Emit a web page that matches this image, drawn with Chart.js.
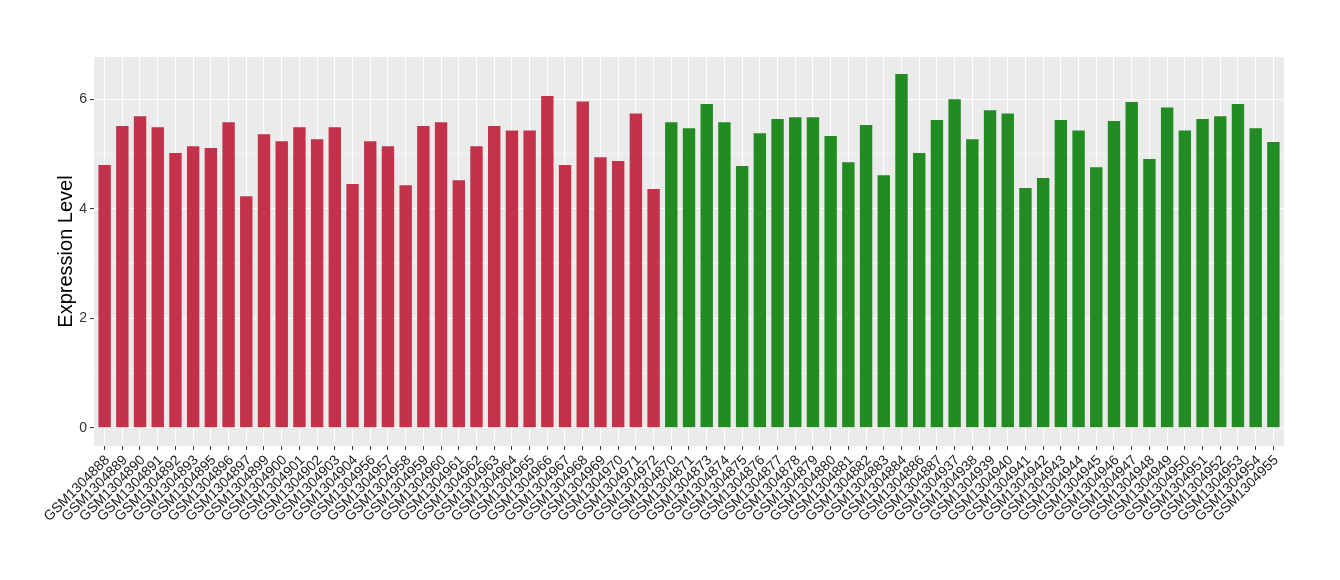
<!DOCTYPE html>
<html>
<head>
<meta charset="utf-8">
<script src="https://cdn.jsdelivr.net/npm/chart.js@4/dist/chart.umd.min.js"></script>
<style>
body{margin:0;background:#fff}
#wrap{width:1340px;height:580px}
</style>
</head>
<body>
<div id="wrap"><canvas id="myChart" width="1340" height="580"></canvas></div>
<script>
// 兩組樣本, 依圖片順序
var redSamples = ['GSM1304888','GSM1304889','GSM1304890','GSM1304891','GSM1304892','GSM1304893','GSM1304895','GSM1304896',
    'GSM1304897','GSM1304899','GSM1304900','GSM1304901','GSM1304902','GSM1304903','GSM1304904','GSM1304956',
    'GSM1304957','GSM1304958','GSM1304959','GSM1304960','GSM1304961','GSM1304962','GSM1304963','GSM1304964',
    'GSM1304965','GSM1304966','GSM1304967','GSM1304968','GSM1304969','GSM1304970','GSM1304971','GSM1304972'];
var redValues = [4.80,5.51,5.69,5.49,5.02,5.14,5.11,5.58,
    4.23,5.36,5.23,5.49,5.27,5.49,4.45,5.23,
    5.14,4.43,5.51,5.58,4.52,5.14,5.51,5.43,
    5.43,6.06,4.80,5.96,4.94,4.87,5.74,4.36];

var greenSamples = ['GSM1304870','GSM1304871','GSM1304873','GSM1304874','GSM1304875','GSM1304876','GSM1304877','GSM1304878',
    'GSM1304879','GSM1304880','GSM1304881','GSM1304882','GSM1304883','GSM1304884','GSM1304886','GSM1304887',
    'GSM1304937','GSM1304938','GSM1304939','GSM1304940','GSM1304941','GSM1304942','GSM1304943','GSM1304944',
    'GSM1304945','GSM1304946','GSM1304947','GSM1304948','GSM1304949','GSM1304950','GSM1304951','GSM1304952',
    'GSM1304953','GSM1304954','GSM1304955'];
var greenValues = [5.58,5.47,5.91,5.58,4.78,5.38,5.64,5.67,
    5.67,5.33,4.85,5.53,4.61,6.46,5.02,5.62,
    6.00,5.27,5.80,5.74,4.38,4.56,5.62,5.43,
    4.76,5.60,5.95,4.91,5.85,5.43,5.64,5.69,
    5.91,5.47,5.22];

var yTicks = [0,1,2,3,4,5,6];//偶數有標籤, 奇數只畫細格線

var allSamples = redSamples.concat(greenSamples);
var redData = [];
var greenData = [];
for (var i=0;i<redValues.length;i++){
    redData.push({x:i, y:redValues[i]});
}
for (var i=0;i<greenValues.length;i++){
    greenData.push({x:redValues.length+i, y:greenValues[i]});
}

var panelBg = {//灰色底
    id:'panelBg',
    beforeDraw:function(chart){
        var a = chart.chartArea;
        var c = chart.ctx;
        c.save();
        c.fillStyle = '#EBEBEB';
        c.fillRect(a.left, a.top, a.right-a.left, a.bottom-a.top);
        c.restore();
    }
};

var font = '"Liberation Sans", Arial, Helvetica, sans-serif';

var ctx = document.getElementById('myChart').getContext('2d');
var myChart = new Chart(ctx, {
    type:'bar',
    data:{
        datasets:[{
            label:'red',
            data:redData,
            backgroundColor:'#C3324A',
            barPercentage:0.7,
            categoryPercentage:1,
            grouped:false
        },{
            label:'green',
            data:greenData,
            backgroundColor:'#228B22',
            barPercentage:0.7,
            categoryPercentage:1,
            grouped:false
        }]
    },
    plugins:[panelBg],
    options:{
        responsive:false,
        animation:false,
        layout:{padding:{left:0, top:57, right:56, bottom:0}},
        plugins:{
            legend:{display:false},
            tooltip:{enabled:false}
        },
        scales:{
            x:{
                type:'linear',
                offset:false,
                min:-0.6,
                max:allSamples.length-1+0.6,
                afterBuildTicks:function(s){
                    s.ticks = allSamples.map(function(_,i){return {value:i};});
                },
                afterFit:function(s){ s.height = 134; },
                grid:{
                    offset:false,
                    color:'#FFFFFF',
                    lineWidth:1.1,
                    drawTicks:true,
                    tickLength:4,
                    tickColor:'#333333',
                    tickWidth:1
                },
                border:{display:false},
                ticks:{
                    autoSkip:false,
                    maxRotation:45,
                    minRotation:45,
                    padding:2,
                    labelOffset:3,
                    color:'#1A1A1A',
                    font:{family:font, size:14},
                    callback:function(v){ return allSamples[v]; }
                }
            },
            y:{
                min:-0.33,
                max:6.77,
                afterBuildTicks:function(s){
                    s.ticks = yTicks.map(function(v){return {value:v};});
                },
                afterFit:function(s){ s.width = 94; },
                grid:{
                    color:'#FFFFFF',
                    lineWidth:function(c){ return (c.tick && c.tick.value % 2 === 0) ? 1.1 : 0.5; },
                    tickColor:function(c){ return (c.tick && c.tick.value % 2 === 0) ? '#333333' : 'rgba(0,0,0,0)'; },
                    tickLength:4,
                    tickWidth:1
                },
                border:{display:false},
                ticks:{
                    color:'#333333',
                    padding:3,
                    font:{family:font, size:14},
                    callback:function(v){ return v % 2 === 0 ? v : ''; }
                },
                title:{
                    display:true,
                    text:'Expression Level',
                    color:'#000000',
                    font:{family:font, size:20},
                    padding:{top:54, bottom:0}
                }
            }
        }
    }
});
</script>
</body>
</html>
